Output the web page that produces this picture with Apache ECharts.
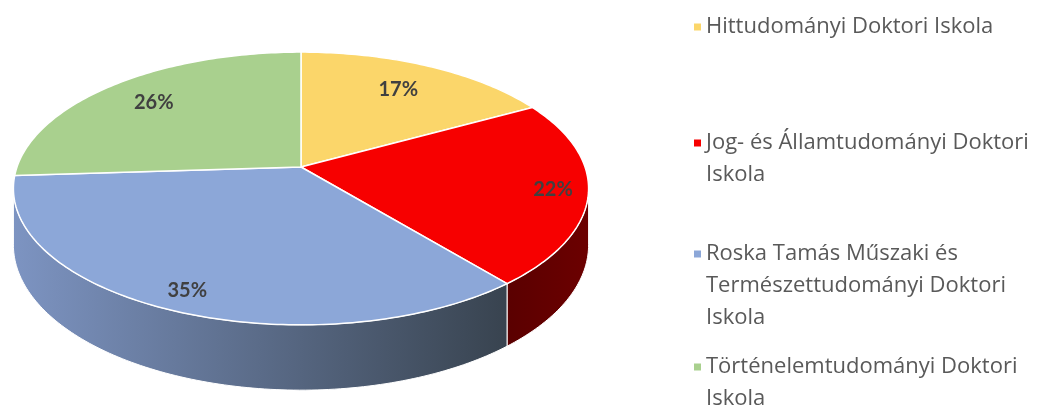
<!DOCTYPE html>
<html>
<head>
<meta charset="utf-8">
<title>Doktori iskolák megoszlása</title>
<script src="https://cdn.jsdelivr.net/npm/echarts@6/dist/echarts.min.js"></script>
<style>
  html, body { margin: 0; padding: 0; background: #fff }
  #chart { width: 1057px; height: 406px }
</style>
</head>
<body>
<div id="chart"></div>
<script>
// data
const schools = [
  'Hittudományi Doktori Iskola',
  'Jog- és Államtudományi Doktori Iskola',
  'Roska Tamás Műszaki és Természettudományi Doktori Iskola',
  'Történelemtudományi Doktori Iskola'
]
const shares = [17, 22, 35, 26]

// styling
const colors = ['#FBD66A', '#F70000', '#8CA7D8', '#A9D08E']
const sideShades = [
  ['#B89A40', '#8A7230'],
  ['#5A0000', '#6C0000'],
  ['#7D94C2', '#38434F'],
  ['#7E9C68', '#5E7A4C']
]
const labelRadius = [0.74, 0.88, 0.88, 0.77]
const legendLines = [1, 2, 3, 2]
const legendFirstLine = [27, 143, 254, 367]

// 3d pie geometry (tilted disc with a bit of perspective)
const CX = 301, CY = 167, RX = 284, RY = 133, K = 0.1575, DEPTH = 55
const LINE_H = 32

const total = shares.reduce((a, b) => a + b, 0)
const starts = shares.map((_, i) => shares.slice(0, i).reduce((a, b) => a + b, 0))

function project(theta, f, drop) {
  const u = f * Math.sin(theta)
  const v = -f * Math.cos(theta)
  const s = 1 / (1 - K * v)
  return [CX + RX * u * s, CY + RY * v * s + drop * s]
}

function arc(a0, a1, f, drop) {
  const pts = []
  const n = Math.max(2, Math.ceil((a1 - a0) / (Math.PI / 180)))
  for (let k = 0; k <= n; k++) pts.push(project(a0 + (a1 - a0) * k / n, f, drop))
  return pts
}

// visible part of the rim lies between the two silhouette points
const rimRight = Math.acos(-K)
const rimLeft = 2 * Math.PI - rimRight

function renderSlice(i) {
  return function (params, api) {
    const value = api.value(0)
    const a0 = starts[i] / total * Math.PI * 2
    const a1 = (starts[i] + value) / total * Math.PI * 2
    const children = []

    const w0 = Math.max(a0, rimRight)
    const w1 = Math.min(a1, rimLeft)
    if (w1 > w0) {
      const top = arc(w0, w1, 1, 0)
      const bottom = arc(w0, w1, 1, DEPTH).reverse()
      children.push({
        type: 'polygon',
        z2: 1,
        shape: { points: top.concat(bottom) },
        style: {
          fill: new echarts.graphic.LinearGradient(0, 0, 1, 0, [
            { offset: 0, color: sideShades[i][0] },
            { offset: 1, color: sideShades[i][1] }
          ]),
          stroke: '#fff',
          lineWidth: 1
        }
      })
    }

    children.push({
      type: 'polygon',
      z2: 10,
      shape: { points: [project(0, 0, 0)].concat(arc(a0, a1, 1, 0)) },
      style: { fill: colors[i], stroke: '#fff', lineWidth: 1.5 }
    })

    const mid = (a0 + a1) / 2
    const p = project(mid, labelRadius[i], 0)
    children.push({
      type: 'text',
      z2: 20,
      style: {
        text: Math.round(value / total * 100) + '%',
        x: p[0],
        y: p[1],
        align: 'center',
        verticalAlign: 'middle',
        font: 'bold 20px Lato, sans-serif',
        fill: '#404040'
      }
    })

    return { type: 'group', children }
  }
}

const chart = echarts.init(document.getElementById('chart'))

chart.setOption({
  animation: false,
  legend: schools.map((name, i) => ({
    data: [name],
    orient: 'vertical',
    left: 694,
    top: legendFirstLine[i] - (2 * legendLines[i] - 1) * LINE_H / 2,
    padding: 0,
    icon: 'rect',
    itemWidth: 7,
    itemHeight: 7,
    selectedMode: false,
    // leading blank lines keep the marker level with the first text line
    formatter: n => '\n'.repeat(legendLines[i] - 1) + n,
    textStyle: {
      fontFamily: 'Open Sans',
      fontSize: 22,
      color: '#595959',
      lineHeight: LINE_H,
      width: 360,
      overflow: 'break'
    }
  })),
  series: schools.map((name, i) => ({
    name,
    type: 'custom',
    coordinateSystem: 'none',
    itemStyle: { color: colors[i] },
    data: [[shares[i]]],
    renderItem: renderSlice(i)
  }))
})

window.addEventListener('resize', () => chart.resize())
</script>
</body>
</html>
